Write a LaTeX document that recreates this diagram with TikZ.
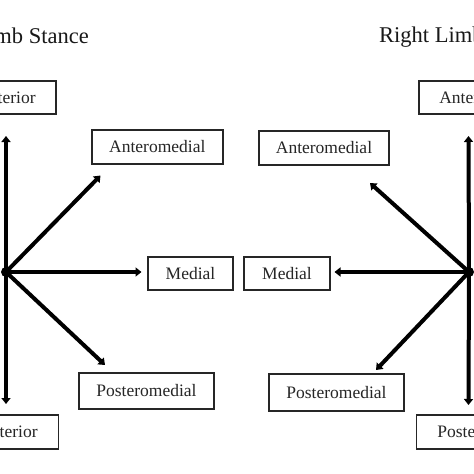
\documentclass[tikz,border=0pt]{standalone}
\usepackage{fontspec}
\setmainfont{Liberation Serif}
\usetikzlibrary{arrows.meta}
\begin{document}
\begin{tikzpicture}[x=1pt,y=-1pt,
  box/.style={draw=black!85,line width=1.8pt,rectangle,inner sep=0pt,font=\fontsize{17.5}{20}\selectfont,text=black!85},
  ray/.style={line width=4pt,-{Triangle[width=9pt,length=6pt]}},
  ttl/.style={font=\fontsize{22.5}{26}\selectfont,inner sep=0pt,text=black!90}]
\useasboundingbox (0,0) rectangle (474,474);
\fill[white] (0,0) rectangle (474,474);
% titles
\node[ttl,anchor=base east] (tL) at (89,43) {Left Limb Stance};
\node[ttl,anchor=base west] (tR) at (379,42) {Right Limb Stance};
% left boxes
\node[box,minimum width=100pt,minimum height=33pt] (antL) at (6,97.5) {Anterior};
\node[box,minimum width=131pt,minimum height=34pt] (amL) at (157.3,147) {Anteromedial};
\node[box,minimum width=85pt,minimum height=33pt] (mL) at (190.5,273.5) {Medial};
\node[box,minimum width=135pt,minimum height=36pt] (pmL) at (146.5,391) {Posteromedial};
\node[box,minimum width=105pt,minimum height=34pt] (pL) at (6,432) {Posterior};
% right boxes
\node[box,minimum width=100pt,minimum height=33pt] (antR) at (469,97.5) {Anterior};
\node[box,minimum width=130pt,minimum height=34pt] (amR) at (324,148) {Anteromedial};
\node[box,minimum width=86pt,minimum height=33pt] (mR) at (287,273.5) {Medial};
\node[box,minimum width=135pt,minimum height=37pt] (pmR) at (336.5,392.5) {Posteromedial};
\node[box,minimum width=105pt,minimum height=34pt] (pR) at (469,432) {Posterior};
% centers and tips
\coordinate (cL) at (6,272);
\coordinate (cR) at (469,272);
\coordinate (tuL) at (6,136);
\coordinate (tamL) at (100.5,175.5);
\coordinate (tmL) at (141.5,272);
\coordinate (tpmL) at (105,365);
\coordinate (tdL) at (6,404);
\coordinate (tuR) at (468.5,136);
\coordinate (tamR) at (370,183);
\coordinate (tmR) at (334.5,272);
\coordinate (tpmR) at (376,370);
\coordinate (tdR) at (468.5,405);
% left rays
\draw[ray] (cL) -- (tuL);
\draw[ray] (cL) -- (tamL);
\draw[ray] (cL) -- (tmL);
\draw[ray] (cL) -- (tpmL);
\draw[ray] (cL) -- (tdL);
\fill (cL) circle (5pt);
% right rays
\draw[ray] (cR) -- (tuR);
\draw[ray] (cR) -- (tamR);
\draw[ray] (cR) -- (tmR);
\draw[ray] (cR) -- (tpmR);
\draw[ray] (cR) -- (tdR);
\fill (cR) circle (5pt);
\end{tikzpicture}
\end{document}
